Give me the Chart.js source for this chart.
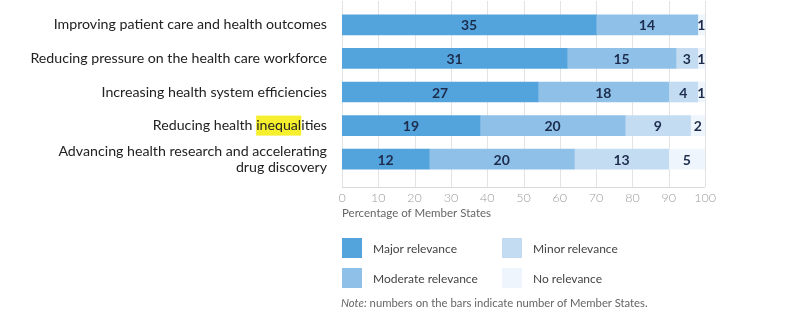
<!DOCTYPE html>
<html>
<head>
<meta charset="utf-8">
<script src="https://cdn.jsdelivr.net/npm/chart.js@4"></script>
<style>
  html, body { margin: 0; padding: 0; background: #ffffff; }
  #wrap { position: relative; width: 808px; height: 324px; font-family: Lato, "Open Sans", sans-serif; }
  #chart { position: absolute; left: 0; top: 0; }
  .key { position: absolute; display: flex; align-items: center; font-size: 12px; color: #444; height: 20px; }
  .key span.box { width: 20px; height: 20px; margin-right: 11px; box-sizing: border-box; }
  #note { position: absolute; left: 341px; top: 296px; font-size: 11.3px; color: #666; }
</style>
</head>
<body>
<div id="wrap">
  <canvas id="chart" width="808" height="324"></canvas>
  <div class="key" style="left:342px; top:238px;"><span class="box" id="k0"></span>Major relevance</div>
  <div class="key" style="left:342px; top:268px;"><span class="box" id="k1"></span>Moderate relevance</div>
  <div class="key" style="left:502px; top:238px;"><span class="box" id="k2"></span>Minor relevance</div>
  <div class="key" style="left:502px; top:268px;"><span class="box" id="k3"></span>No relevance</div>
  <div id="note"><i>Note:</i> numbers on the bars indicate number of Member States.</div>
</div>
<script>
// Objectives of AI use in health, rated by the Member States
const categories = [
  'Improving patient care and health outcomes',
  'Reducing pressure on the health care workforce',
  'Increasing health system efficiencies',
  'Reducing health inequalities',
  ['Advancing health research and accelerating', 'drug discovery']
];

// Number of Member States per relevance level
const major    = [35, 31, 27, 19, 12];
const moderate = [14, 15, 18, 20, 20];
const minor    = [ 0,  3,  4,  9, 13];
const none     = [ 1,  1,  1,  2,  5];

const seriesNames  = ['Major relevance', 'Moderate relevance', 'Minor relevance', 'No relevance'];
const seriesColors = ['#53a4dc', '#8fc0e7', '#c3dcf2', '#eef5fc'];

// The axis runs over all responding Member States, labelled as a percentage
const memberStates = 50;
const percentTicks = [0, 10, 20, 30, 40, 50, 60, 70, 80, 90, 100];

// Word highlighted in the fourth category label
const highlightRow = 3;
const highlightBefore = 'Reducing health ';
const highlightWord = 'inequal';

const FONT = 'Lato, "Open Sans", sans-serif';
const LABEL_SIZE = 14.2;
const LABEL_GAP = 15;
const LINE_STEP = 16;

seriesColors.forEach((c, i) => { document.getElementById('k' + i).style.background = c; });

// Vertical grid from the top of the canvas down to the baseline, plus the baseline
const gridPlugin = {
  id: 'fullGrid',
  beforeDatasetsDraw(chart) {
    const { ctx, scales: { x }, chartArea } = chart;
    const top = 1, bottom = chartArea.bottom + 11;
    ctx.save();
    ctx.strokeStyle = '#e3e3e3';
    ctx.lineWidth = 1;
    x.ticks.forEach(t => {
      const px = Math.round(x.getPixelForValue(t.value)) + 0.5;
      ctx.beginPath(); ctx.moveTo(px, top); ctx.lineTo(px, bottom); ctx.stroke();
    });
    ctx.strokeStyle = '#d9d9d9';
    ctx.beginPath();
    ctx.moveTo(chartArea.left, bottom + 0.5);
    ctx.lineTo(chartArea.right, bottom + 0.5);
    ctx.stroke();
    ctx.restore();
  }
};

// Category names right-aligned beside their bars, with the marked word highlighted
const categoryLabels = {
  id: 'categoryLabels',
  afterDraw(chart) {
    const { ctx, scales: { y }, chartArea } = chart;
    const right = chartArea.left - LABEL_GAP;
    ctx.save();
    ctx.font = `${LABEL_SIZE}px ${FONT}`;
    ctx.textBaseline = 'middle';
    categories.forEach((label, i) => {
      const lines = Array.isArray(label) ? label : [label];
      const cy = y.getPixelForValue(i);
      const y0 = cy - (lines.length - 1) * LINE_STEP / 2;
      if (i === highlightRow) {
        const start = right - ctx.measureText(lines[0]).width;
        const x0 = start + ctx.measureText(highlightBefore).width;
        const x1 = start + ctx.measureText(highlightBefore + highlightWord).width;
        ctx.fillStyle = '#f6ef2e';
        ctx.fillRect(x0, cy - 10, x1 - x0, 20);
      }
      ctx.fillStyle = '#222222';
      ctx.textAlign = 'right';
      lines.forEach((ln, k) => ctx.fillText(ln, right, y0 + k * LINE_STEP));
    });
    ctx.restore();
  }
};

// Member State counts written on each segment
const countLabels = {
  id: 'countLabels',
  afterDatasetsDraw(chart) {
    const { ctx } = chart;
    ctx.save();
    ctx.font = `bold 14px ${FONT}`;
    ctx.fillStyle = '#1d2c4d';
    ctx.textAlign = 'center';
    ctx.textBaseline = 'middle';
    chart.data.datasets.forEach((ds, di) => {
      chart.getDatasetMeta(di).data.forEach((bar, i) => {
        const v = ds.data[i];
        if (!v) return;
        const { x, base, y } = bar.getProps(['x', 'base', 'y'], true);
        ctx.fillText(String(v), (x + base) / 2, y + 1);
      });
    });
    ctx.restore();
  }
};

new Chart(document.getElementById('chart'), {
  type: 'bar',
  data: {
    labels: categories,
    datasets: [major, moderate, minor, none].map((d, i) => ({
      label: seriesNames[i],
      data: d,
      backgroundColor: seriesColors[i],
      borderWidth: 0,
      barThickness: 20
    }))
  },
  options: {
    indexAxis: 'y',
    responsive: false,
    animation: false,
    layout: { padding: { left: 0, right: 103, top: 8, bottom: 98 } },
    plugins: {
      legend: { display: false },
      tooltip: { enabled: false }
    },
    scales: {
      x: {
        stacked: true,
        min: 0,
        max: memberStates,
        grid: { display: false, drawTicks: false },
        border: { display: false },
        ticks: {
          stepSize: memberStates / (percentTicks.length - 1),
          padding: 14,
          color: '#9a9a9a',
          font: { family: FONT, size: 12.5, weight: '300' },
          callback: (v, i) => percentTicks[i]
        },
        title: {
          display: true,
          text: 'Percentage of Member States',
          align: 'start',
          color: '#666666',
          font: { family: FONT, size: 11.5 },
          padding: { top: 0, bottom: 6 }
        },
        afterFit(scale) { scale.height = 50; }
      },
      y: {
        stacked: true,
        grid: { display: false },
        border: { display: false },
        ticks: { display: false },
        afterFit(scale) { scale.width = 342; }
      }
    }
  },
  plugins: [gridPlugin, categoryLabels, countLabels]
});
</script>
</body>
</html>
